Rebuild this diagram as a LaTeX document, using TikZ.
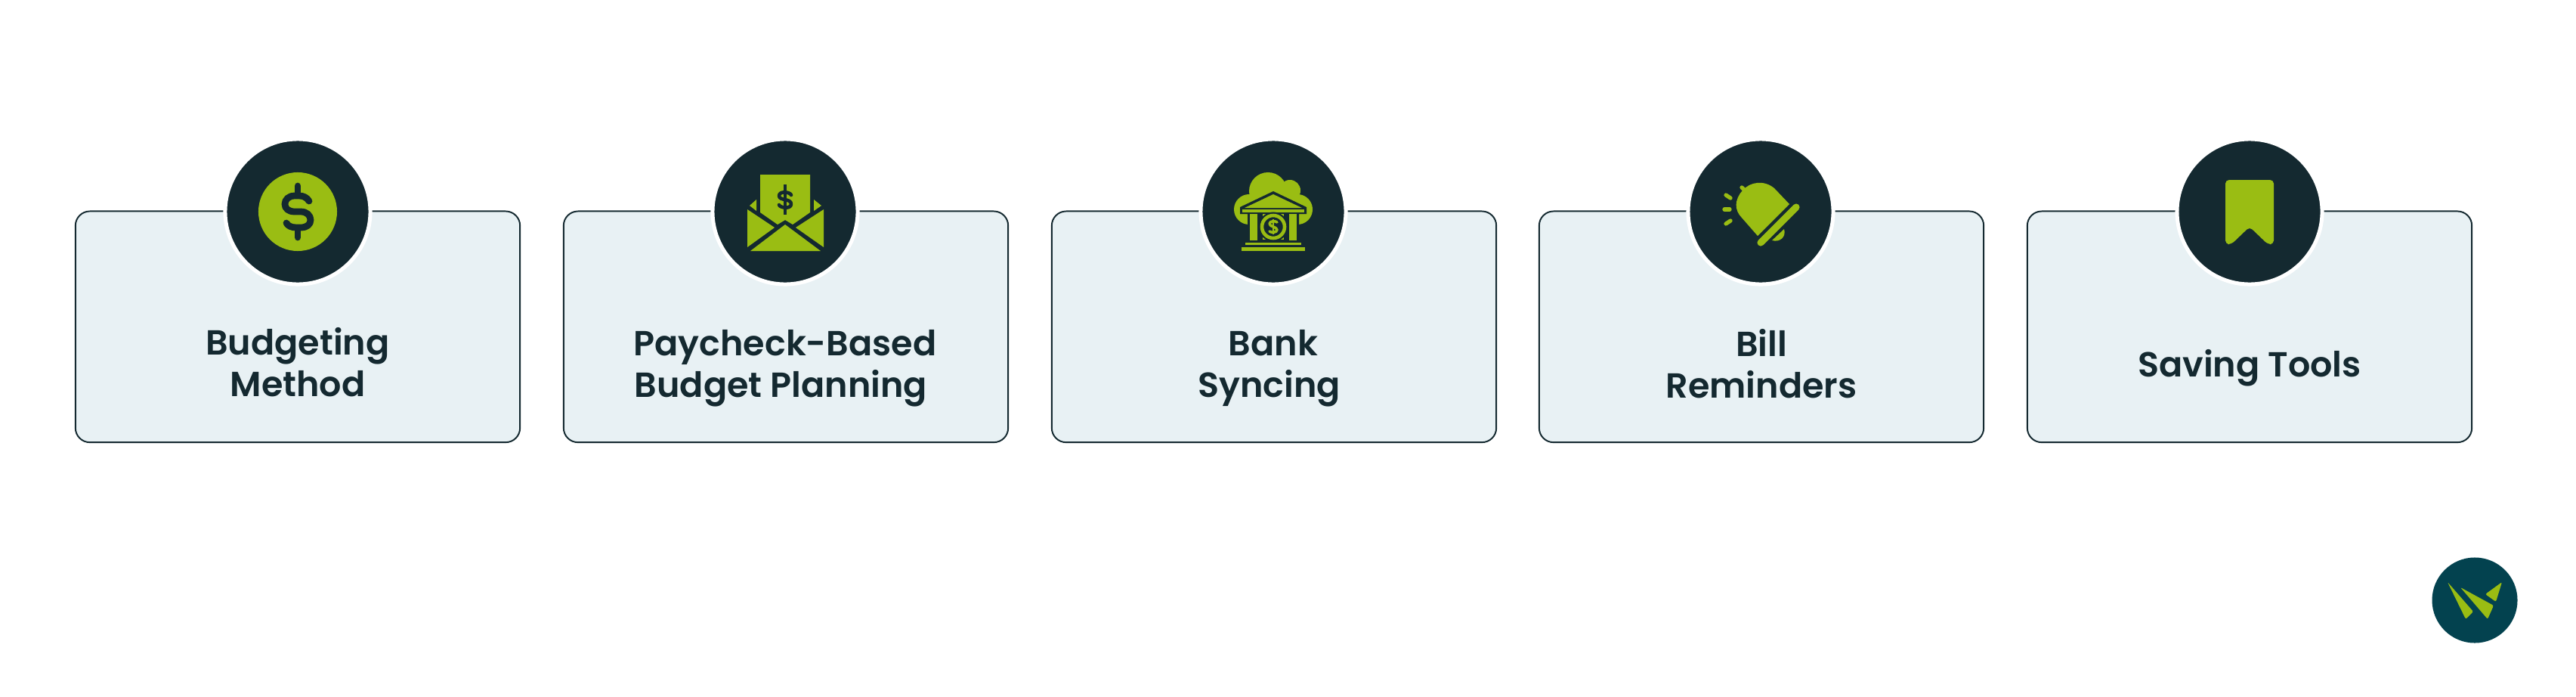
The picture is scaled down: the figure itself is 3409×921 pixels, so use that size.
\documentclass[tikz,border=0pt]{standalone}
\usepackage{fontspec}
\setmainfont{Poppins SemiBold}
\definecolor{inkdark}{RGB}{20,41,48}
\definecolor{leaf}{RGB}{154,189,19}
\definecolor{cardtint}{RGB}{232,241,244}
\definecolor{logoteal}{RGB}{3,66,79}
\begin{document}
\begin{tikzpicture}%
	[	x={(0.010000cm, 0.000000cm)},
	y={(0.000000cm, -0.010000cm)},
	card/.style={draw=inkdark, fill=cardtint, line width=0.55pt, rounded corners=0.19cm, minimum width=5.88cm, minimum height=3.055cm, inner sep=0pt, outer sep=0pt},
	badge/.style={circle, draw=white, fill=inkdark, line width=0.05cm, minimum size=1.92cm, inner sep=0pt, outer sep=0pt},
	cardlabel/.style={text=inkdark, font=\fontsize{13.1pt}{15.7pt}\selectfont, align=center, inner sep=0pt},
	leaffill/.style={fill=leaf},
	inkfill/.style={fill=inkdark},
	leafstroke/.style={draw=leaf, line cap=round, line join=round},
	inkstroke/.style={draw=inkdark, line cap=round, line join=round}]

\useasboundingbox (0,0) rectangle (3409,921);

\node[card] (card1) at (394,432.3) {};
\node[card] (card2) at (1040,432.3) {};
\node[card] (card3) at (1686,432.3) {};
\node[card] (card4) at (2331,432.3) {};
\node[card] (card5) at (2977,432.3) {};

\node[badge] (badge1) at (394,280) {};
\node[badge] (badge2) at (1039,280) {};
\node[badge] (badge3) at (1685,280) {};
\node[badge] (badge4) at (2330,280) {};
\node[badge] (badge5) at (2977,280) {};

\node[cardlabel] (label1) at (394,479) {Budgeting\\Method};
\node[cardlabel] (label2) at (1039,487) {Paycheck-Based\\Budget Planning\hspace*{0.11cm}};
\node[cardlabel] (label3) at (1685,487) {Bank\\Syncing\hspace*{0.11cm}};
\node[cardlabel] (label4) at (2331,481) {Bill\\Reminders};
\node[cardlabel] (label5) at (2977,487) {Saving Tools};

% coin
\begin{scope}[shift={(badge1.center)}]
\fill[leaffill] (0,0) circle (0.52cm);
\draw[inkstroke, line width=2.5pt] (0,-34) -- (0,-24);
\draw[inkstroke, line width=2.5pt] (0,24) -- (0,34);
\draw[inkstroke, line width=2.5pt] (15,-14) .. controls (12,-19) and (7,-21) .. (2,-21) -- (-4,-21) .. controls (-12,-21) and (-17,-16) .. (-17,-10) .. controls (-17,-4) and (-12,0) .. (-4,0) -- (4,0) .. controls (12,0) and (17,5) .. (17,11) .. controls (17,17) and (12,21) .. (4,21) -- (-2,21) .. controls (-8,21) and (-13,19) .. (-15,15);
\end{scope}

% envelope
\begin{scope}[shift={(badge2.center)}]
\fill[leaffill] (-33,-49) -- (33,-49) -- (33,1) -- (10,17) -- (0,11) -- (-10,17) -- (-33,1) -- cycle;
\fill[leaffill] (-50,-3) -- (-14,21) -- (-50,47) -- cycle;
\fill[leaffill] (51,-3) -- (14,21) -- (51,47) -- cycle;
\fill[leaffill] (0,17) -- (47,52) -- (-46,52) -- cycle;
\fill[leaffill] (-38,-16) -- (-38,-1) -- (-47,-8) -- cycle;
\fill[leaffill] (38,-16) -- (38,-1) -- (48,-8) -- cycle;
\draw[draw=inkdark, line width=1.2pt] (0,-36) -- (0,4);
\draw[inkstroke, line width=1.3pt] (8,-22) .. controls (7,-26) and (-8,-28) .. (-8,-21) .. controls (-8,-14) and (8,-18) .. (8,-10) .. controls (8,-3) and (-7,-5) .. (-8,-9);
\end{scope}

% bank under a cloud
\begin{scope}[shift={(badge3.center)}]
\fill[leaffill] (-7,-27) circle (0.25cm);
\fill[leaffill] (22,-28) circle (0.14cm);
\fill[leaffill] (-32,-3) circle (0.2cm);
\fill[leaffill] (32,-3) circle (0.2cm);
\fill[leaffill] (-34,-20) rectangle (34,20);
\fill[inkfill] (0,-27) -- (44,-6) -- (44,3) -- (34,3) -- (34,40) -- (-34,40) -- (-34,3) -- (-44,3) -- (-44,-6) -- cycle;
\fill[leaffill] (0,-23) -- (38,-5) -- (-38,-5) -- cycle;
\fill[leaffill] (-41,-3) rectangle (41,1);
\fill[leaffill] (-31,3) rectangle (-21,38);
\fill[leaffill] (21,3) rectangle (31,38);
\fill[leaffill] (-14,3) rectangle (14,37);
\fill[inkfill] (0,20) circle (0.195cm);
\draw[draw=leaf, line width=1.3pt] (0,20) circle (0.15cm);
\draw[inkstroke, draw=leaf, line width=1pt] (5,14) .. controls (3,12) and (-5,12) .. (-5,16) .. controls (-5,20) and (5,20) .. (5,24) .. controls (5,28) and (-3,28) .. (-5,26);
\draw[draw=leaf, line width=0.7pt] (0,10) -- (0,30);
\fill[leaffill] (-37,41) rectangle (37,44);
\fill[leaffill] (-42,47) rectangle (42,52);
\end{scope}

% bell
\begin{scope}[shift={(badge4.center)}]
\fill[leaffill] (38,-10) -- (18,-31) .. controls (5,-42) and (-14,-40) .. (-24,-28) .. controls (-35,-16) and (-35,-2) .. (-25,8) -- (-4,32) -- cycle;
\draw[leafstroke, line width=1.5pt] (-25,-32) -- (-20,-27);
\draw[leafstroke, line width=2.6pt] (0,41) -- (47,-6);
\fill[leaffill] (15,38) .. controls (26,41) and (34,33) .. (31,23) -- cycle;
\draw[leafstroke, line width=1.5pt] (-46,-22) -- (-40,-18);
\draw[leafstroke, line width=1.5pt] (-48,-3) -- (-41,-3);
\draw[leafstroke, line width=1.5pt] (-46,16) -- (-40,12);
\end{scope}

% bookmark
\begin{scope}[shift={(badge5.center)}]
\fill[leaffill, rounded corners=1.4pt] (-32,-42) -- (32,-42) -- (32,43) -- (24,43) -- (0,20) -- (-24,43) -- (-32,43) -- cycle;
\end{scope}

% logo
\node[circle, fill=logoteal, minimum size=1.13cm, inner sep=0pt, outer sep=0pt] (logo) at (3275,794) {};
\begin{scope}[shift={(logo.center)}]
\fill[leaffill, rounded corners=0.6pt] (-36,-24) -- (-2,15) -- (-12,25) -- cycle;
\fill[leaffill, rounded corners=0.6pt] (-19,-17) -- (25,7) -- (17,25) -- cycle;
\fill[leaffill, rounded corners=0.6pt] (36,-24) -- (28,2) -- (14,-8) -- cycle;
\end{scope}
\end{tikzpicture}
\end{document}
